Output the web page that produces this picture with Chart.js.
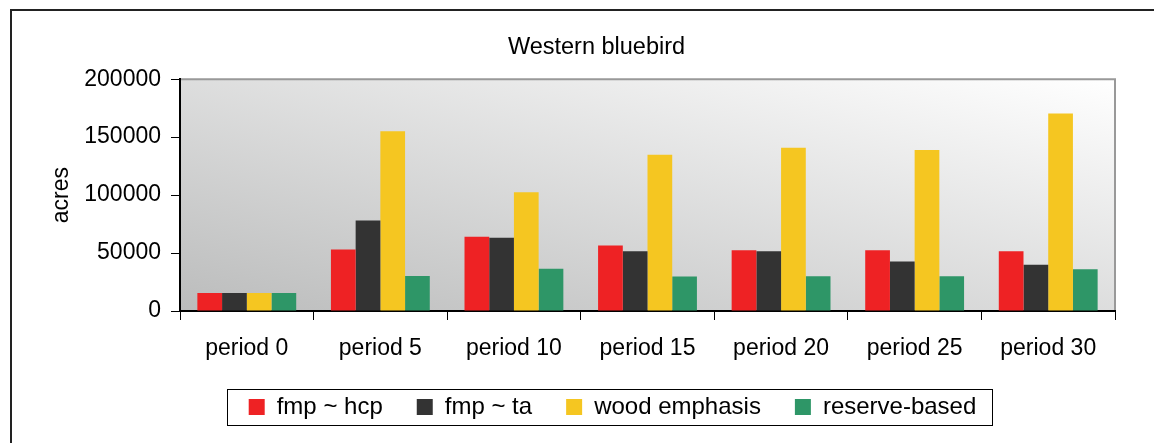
<!DOCTYPE html>
<html>
<head>
<meta charset="utf-8">
<script src="https://cdn.jsdelivr.net/npm/chart.js@4/dist/chart.umd.min.js"></script>
<style>
  html, body { margin: 0; padding: 0; background: #fff; overflow: hidden; }
  #wrap { position: relative; width: 1154px; height: 443px; }
  #frame { position: absolute; left: 10px; top: 9px; width: 1200px; height: 500px; border: 2px solid #222; pointer-events: none; }
  canvas { position: absolute; left: 0; top: 0; }
</style>
</head>
<body>
<div id="wrap">
  <canvas id="grafica" width="1154" height="443"></canvas>
  <div id="frame"></div>
</div>
<script>
// datos
var periodos = ['period 0', 'period 5', 'period 10', 'period 15', 'period 20', 'period 25', 'period 30'];
var fmpHcp = [15500, 53000, 64000, 56500, 52500, 52500, 51500];
var fmpTa = [15500, 78000, 63300, 51500, 51500, 42800, 40000];
var woodEmphasis = [15500, 155000, 102500, 134800, 140800, 139000, 170300];
var reserveBased = [15500, 30300, 36400, 29800, 30000, 30000, 36000];
var yTicks = [0, 50000, 100000, 150000, 200000];

var fuente = 'Arial, "Liberation Sans", sans-serif';
var tamLeyenda = 24;
var cajaLeyenda = 16;
var sepLeyenda = 34;

// fondo degradado del area de la grafica, borde gris y marco de la leyenda
var fondoPlugin = {
  id: 'fondo',
  beforeDraw: function(chart) {
    var a = chart.chartArea, ctx = chart.ctx;
    var W = a.right - a.left, H = a.bottom - a.top;
    var k = 2 * W * H / (W * W + H * H);
    var g = ctx.createLinearGradient(a.left, a.bottom, a.left + H * k, a.bottom - W * k);
    g.addColorStop(0, '#bbbcbc');
    g.addColorStop(1, '#ffffff');
    ctx.save();
    ctx.fillStyle = g;
    ctx.fillRect(a.left, a.top, W, H);
    ctx.strokeStyle = '#999';
    ctx.lineWidth = 2;
    ctx.beginPath();
    ctx.moveTo(a.left, a.top);
    ctx.lineTo(a.right, a.top);
    ctx.lineTo(a.right, a.bottom);
    ctx.stroke();
    ctx.restore();
  },
  afterLayout: function(chart) {
    var lg = chart.legend;
    lg.left += 50;
    lg.right += 50;
    lg.top -= 4;
    lg.bottom -= 4;
    var t = chart.titleBlock;
    if (t) { t.left += 34; t.right += 34; }
  },
  afterDraw: function(chart) {
    var lg = chart.legend, ctx = chart.ctx;
    ctx.save();
    ctx.font = tamLeyenda + 'px ' + fuente;
    var total = 0;
    chart.data.datasets.forEach(function(d, i) {
      total += cajaLeyenda + tamLeyenda / 2 + ctx.measureText(d.label).width;
      if (i > 0) total += sepLeyenda;
    });
    var cx = (lg.left + lg.right) / 2;
    var cy = lg.top + sepLeyenda + tamLeyenda / 2;
    var x0 = Math.round(cx - total / 2 - 22) + 0.5;
    var x1 = Math.round(cx + total / 2 + 16) + 0.5;
    ctx.strokeStyle = '#000';
    ctx.lineWidth = 1;
    ctx.strokeRect(x0, Math.round(cy - 18) + 0.5, x1 - x0, 36);
    ctx.restore();
  }
};

var ctx = document.getElementById('grafica').getContext('2d');
new Chart(ctx, {
  type: 'bar',
  data: {
    labels: periodos,
    datasets: [
      { label: 'fmp ~ hcp', data: fmpHcp, backgroundColor: '#ee2224' },
      { label: 'fmp ~ ta', data: fmpTa, backgroundColor: '#333333' },
      { label: 'wood emphasis', data: woodEmphasis, backgroundColor: '#f5c621' },
      { label: 'reserve-based', data: reserveBased, backgroundColor: '#2e9667' }
    ]
  },
  options: {
    responsive: false,
    animation: false,
    layout: { padding: { left: 10, right: 39, top: 0, bottom: 10 } },
    datasets: { bar: { categoryPercentage: 0.74, barPercentage: 1.0 } },
    plugins: {
      title: {
        display: true,
        text: 'Western bluebird',
        color: '#000',
        font: { family: fuente, size: 23.5, weight: 'normal' },
        padding: { top: 33, bottom: 18 }
      },
      legend: {
        position: 'bottom',
        maxHeight: 87,
        labels: {
          color: '#000',
          font: { family: fuente, size: tamLeyenda },
          boxWidth: cajaLeyenda,
          boxHeight: cajaLeyenda,
          padding: sepLeyenda
        }
      },
      tooltip: { enabled: false }
    },
    scales: {
      x: {
        grid: { offset: true, drawOnChartArea: false, tickLength: 9, color: '#000' },
        border: { color: '#000', width: 2 },
        ticks: { color: '#000', font: { family: fuente, size: 23 }, padding: 15, maxRotation: 0 },
        afterFit: function(s) { s.height = 54; }
      },
      y: {
        min: 0,
        max: 200000,
        afterBuildTicks: function(s) { s.ticks = yTicks.map(function(v) { return { value: v }; }); },
        grid: { drawOnChartArea: false, tickLength: 9, color: '#000' },
        border: { color: '#000', width: 2 },
        ticks: {
          color: '#000',
          font: { family: fuente, size: 23 },
          padding: 10,
          callback: function(v) { return String(v); }
        },
        title: {
          display: true,
          text: 'acres',
          color: '#000',
          font: { family: fuente, size: 23 },
          padding: { top: 38, bottom: 0 }
        },
        afterFit: function(s) { s.width = 170; }
      }
    }
  },
  plugins: [fondoPlugin]
});
</script>
</body>
</html>
